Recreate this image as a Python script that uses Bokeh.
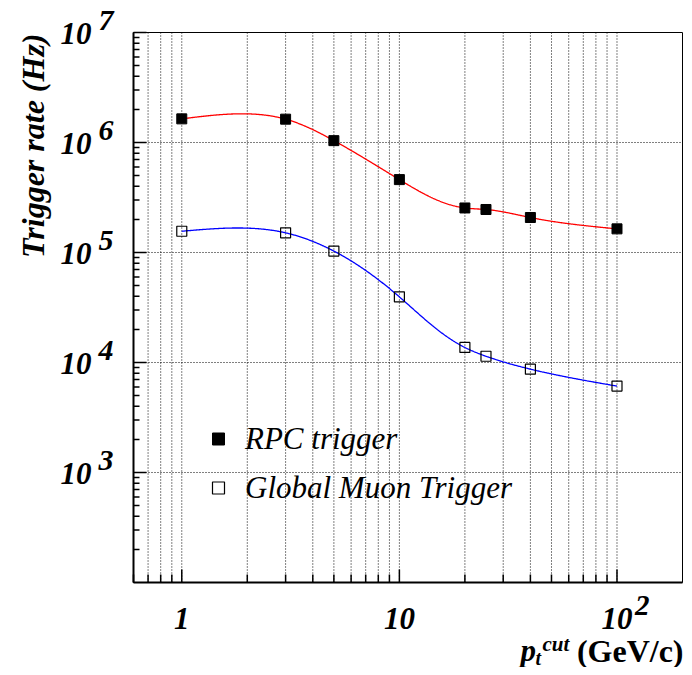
import numpy as np
from bokeh.plotting import figure
from bokeh.models import Range1d, Legend, LegendItem
from bokeh.core.properties import value
from bokeh.embed import file_html
from bokeh.resources import INLINE

# ---- data ----
pt_cut = [1, 3, 5, 10, 20, 25, 40, 100]
rpc_rate = [1.64e6, 1.63e6, 1.04e6, 4.6e5, 2.54e5, 2.46e5, 2.08e5, 1.64e5]
gmt_rate = [1.56e5, 1.51e5, 1.03e5, 3.95e4, 1.37e4, 1.14e4, 8.7e3, 6.1e3]

x_major = [1, 10, 100]
x_tick_base = ["1", "10", "10"]
x_tick_exp = ["", "", "2"]
y_major_exp = [3, 4, 5, 6, 7]

X_MIN, X_MAX = 0.6, 200.0
Y_MIN, Y_MAX = 1e2, 1e7

FONT = "Liberation Serif"

# canvas and inner (axis) box, in pixels
W, H = 684, 667
BL, BR, BT, BB = 133, 682, 32, 582

kx = np.log10(X_MAX / X_MIN) / (BR - BL)   # decades per pixel
ky = np.log10(Y_MAX / Y_MIN) / (BB - BT)
x_start = X_MIN * 10 ** (-BL * kx)
x_end = X_MAX * 10 ** ((W - BR) * kx)
y_start = Y_MIN * 10 ** (-(H - BB) * ky)
y_end = Y_MAX * 10 ** (BT * ky)


def natural_spline(t, v, tt):
    n = len(t)
    h = np.diff(t)
    A = np.zeros((n, n))
    b = np.zeros(n)
    A[0, 0] = 1.0
    A[-1, -1] = 1.0
    for i in range(1, n - 1):
        A[i, i - 1] = h[i - 1]
        A[i, i] = 2 * (h[i - 1] + h[i])
        A[i, i + 1] = h[i]
        b[i] = 6 * ((v[i + 1] - v[i]) / h[i] - (v[i] - v[i - 1]) / h[i - 1])
    M = np.linalg.solve(A, b)
    out = np.empty_like(tt)
    idx = np.clip(np.searchsorted(t, tt, side="right") - 1, 0, n - 2)
    for k, (s, i) in enumerate(zip(tt, idx)):
        hi = h[i]
        a = t[i + 1] - s
        c = s - t[i]
        out[k] = (M[i] * a ** 3 / (6 * hi) + M[i + 1] * c ** 3 / (6 * hi)
                  + (v[i] / hi - M[i] * hi / 6) * a
                  + (v[i + 1] / hi - M[i + 1] * hi / 6) * c)
    return out


def smooth_curve(xs, ys):
    # parametric spline in screen-proportional log coordinates (like ROOT "C")
    X = np.log10(np.asarray(xs, float)) / kx
    Y = np.log10(np.asarray(ys, float)) / ky
    d = np.hypot(np.diff(X), np.diff(Y))
    t = np.concatenate([[0], np.cumsum(d)])
    tt = np.linspace(0, t[-1], 600)
    return 10 ** (natural_spline(t, X, tt) * kx), 10 ** (natural_spline(t, Y, tt) * ky)


p = figure(width=W, height=H, x_axis_type="log", y_axis_type="log",
           x_range=Range1d(x_start, x_end), y_range=Range1d(y_start, y_end),
           x_axis_location=None, y_axis_location=None,
           output_backend="svg", toolbar_location=None,
           min_border=0)
p.grid.visible = False
p.outline_line_color = None
p.background_fill_color = "white"
p.border_fill_color = "white"

# tick positions
x_minor = [m * 10.0 ** e for e in range(-1, 3) for m in range(2, 10)
           if X_MIN < m * 10.0 ** e < X_MAX]
y_major = [10.0 ** e for e in y_major_exp]
y_minor = [m * 10.0 ** e for e in range(2, 7) for m in range(2, 10)]

# grid (dotted)
gx = [v for v in sorted(x_major + x_minor) if X_MIN < v < X_MAX]
p.segment(x0=gx, y0=[Y_MIN] * len(gx), x1=gx, y1=[Y_MAX] * len(gx),
          line_color="black", line_dash="1 2", line_width=1)
gy = [v for v in y_major if Y_MIN < v < Y_MAX]
p.segment(x0=[X_MIN] * len(gy), y0=gy, x1=[X_MAX] * len(gy), y1=gy,
          line_color="black", line_dash="1 2", line_width=1)

# frame
p.quad(left=[X_MIN], right=[X_MAX], bottom=[Y_MIN], top=[Y_MAX],
       fill_color=None, line_color="black", line_width=1)
p.segment(x0=[X_MIN, X_MIN], y0=[Y_MIN, Y_MIN], x1=[X_MIN, X_MAX], y1=[Y_MAX, Y_MIN],
          line_color="black", line_width=2)


# ticks (inside)
def xticks(vals, L):
    p.segment(x0=vals, y0=[Y_MIN] * len(vals), x1=vals,
              y1=[Y_MIN * 10 ** (L * ky)] * len(vals),
              line_color="black", line_width=1.5)


def yticks(vals, L):
    p.segment(x0=[X_MIN] * len(vals), y0=vals,
              x1=[X_MIN * 10 ** (L * kx)] * len(vals), y1=vals,
              line_color="black", line_width=1.5)


xticks(x_major, 13)
xticks(x_minor, 8)
yticks(y_major, 13)
yticks(y_minor, 6)

# curves and points
cx, cy = smooth_curve(pt_cut, rpc_rate)
p.line(cx, cy, line_color="#ff0000", line_width=1.3)
cx, cy = smooth_curve(pt_cut, gmt_rate)
p.line(cx, cy, line_color="#0000ff", line_width=1.3)

r_rpc = p.scatter(pt_cut, rpc_rate, marker="square", size=10,
                  fill_color="black", line_color="black")
r_gmt = p.scatter(pt_cut, gmt_rate, marker="square", size=10,
                  fill_color=None, line_color="black", line_width=1.2)

legend = Legend(items=[LegendItem(label="RPC trigger", renderers=[r_rpc]),
                       LegendItem(label="Global Muon Trigger", renderers=[r_gmt])],
                location=(203, 155), border_line_color=None,
                background_fill_alpha=0, label_text_font=FONT,
                label_text_font_style="italic", label_text_font_size="31px",
                label_text_color="black",
                glyph_width=30, glyph_height=49, label_height=49,
                spacing=0, padding=0, margin=0, label_standoff=12)
p.add_layout(legend)

TF = dict(text_font=value(FONT), text_font_style="bold italic", text_color="black")

# y tick labels: 10^e
n = len(y_major_exp)
p.text(x=[X_MIN] * n, y=y_major, text=["10"] * n, text_align="right",
       text_baseline="middle", x_offset=-42, y_offset=1,
       text_font_size="31px", **TF)
p.text(x=[X_MIN] * n, y=y_major, text=[str(e) for e in y_major_exp],
       text_align="left", text_baseline="middle", x_offset=-35, y_offset=-12,
       text_font_size="30px", **TF)

# x tick labels
p.text(x=x_major, y=[Y_MIN] * len(x_major), text=x_tick_base, text_align="center",
       text_baseline="middle", x_offset=0, y_offset=36,
       text_font_size="31px", **TF)
ex_x = [xv for xv, ex in zip(x_major, x_tick_exp) if ex]
ex_t = [ex for ex in x_tick_exp if ex]
p.text(x=ex_x, y=[Y_MIN] * len(ex_x), text=ex_t, text_align="left",
       text_baseline="middle", x_offset=18, y_offset=23,
       text_font_size="29px", **TF)

# y title
p.text(x=[X_MIN], y=[Y_MAX], text=["Trigger rate (Hz)"], angle=np.pi / 2,
       text_align="right", text_baseline="alphabetic",
       x_offset=-101, y_offset=1, text_font_size="32px", **TF)

# x title: p_t^cut (GeV/c)
p.text(x=[X_MAX], y=[Y_MIN], text=["(GeV/c)"], text_align="right",
       text_baseline="alphabetic", x_offset=1, y_offset=68,
       text_font=value(FONT), text_font_style="bold", text_color="black",
       text_font_size="32px")
p.text(x=[X_MAX], y=[Y_MIN], text=["p"], text_align="left",
       text_baseline="alphabetic", x_offset=-162, y_offset=68,
       text_font_size="31px", **TF)
p.text(x=[X_MAX], y=[Y_MIN], text=["t"], text_align="left",
       text_baseline="alphabetic", x_offset=-147, y_offset=75,
       text_font_size="20px", **TF)
p.text(x=[X_MAX], y=[Y_MIN], text=["cut"], text_align="left",
       text_baseline="alphabetic", x_offset=-140, y_offset=61,
       text_font_size="21px", **TF)

open("out.html", "w").write(file_html(p, INLINE))
